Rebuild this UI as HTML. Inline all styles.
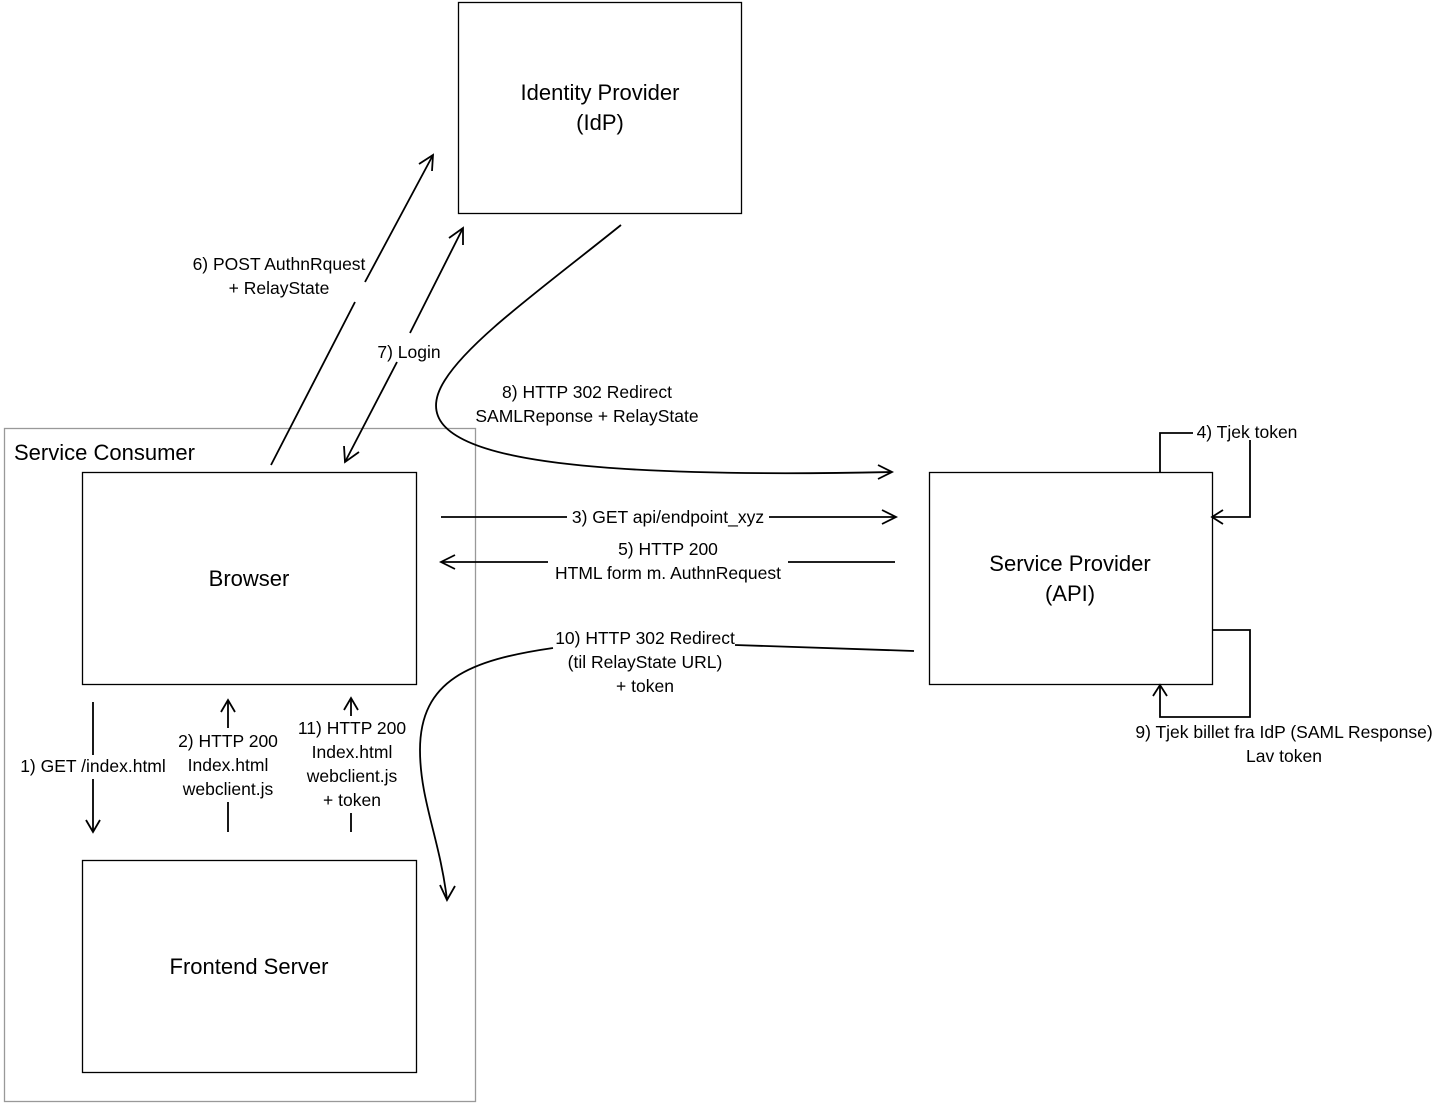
<!DOCTYPE html>
<html><head><meta charset="utf-8"><style>
html,body{margin:0;padding:0;background:#fff;}
svg{display:block;}
text{font-family:"Liberation Sans",sans-serif;fill:#000;}
.l{font-size:17.5px;text-anchor:middle;}
.b{font-size:22px;text-anchor:middle;}
</style></head><body>
<svg width="1446" height="1103" viewBox="0 0 1446 1103" xmlns="http://www.w3.org/2000/svg">
<g fill="none" stroke="#000" stroke-width="1.3">
<rect x="458.5" y="2.5" width="283" height="211"/>
<rect x="4.5" y="428.5" width="471" height="673" stroke="#999"/>
<rect x="82.5" y="472.5" width="334" height="212"/>
<rect x="82.5" y="860.5" width="334" height="212"/>
<rect x="929.5" y="472.5" width="283" height="212"/>
<g stroke-width="1.8">
<path d="M271 465 L355 302 M365 282 L433 155"/>
<path d="M419 164 L433 155 L432 171"/>
<path d="M463 228 L410 333 M397 362 L345 462"/>
<path d="M449 238 L463 228 L463 245"/>
<path d="M344 446 L345 462 L359 452"/>
<path d="M621 225 C540 290 470 340 445 380 C400 450 520 480 892 472"/>
<path d="M878 465 L892 472 L878 479"/>
<path d="M441 517 L567 517 M769 517 L896 517"/>
<path d="M882 510 L896 517 L882 524"/>
<path d="M895 562 L788 562 M548 562 L441 562"/>
<path d="M455 555 L441 562 L455 569"/>
<path d="M914 651 L735 645"/>
<path d="M553 648 C470 660 420 680 420 750 C420 800 440 840 447 900"/>
<path d="M440 885 L447 900 L455 886"/>
<path d="M1160 472 L1160 433 L1193 433"/>
<path d="M1250 440 L1250 517 L1212 517"/>
<path d="M1223 510 L1212 517 L1223 524"/>
<path d="M1212 630 L1250 630 L1250 717 L1160 717 L1160 685"/>
<path d="M1153 696 L1160 685 L1167 696"/>
<path d="M93 702 L93 755 M93 779 L93 832"/>
<path d="M86 820 L93 832 L100 820"/>
<path d="M228 832 L228 802 M228 728 L228 700"/>
<path d="M221 712 L228 700 L235 712"/>
<path d="M351 832 L351 813 M351 716 L351 698"/>
<path d="M344 710 L351 698 L358 710"/>
</g>
</g>
<text class="b" x="600" y="100">Identity Provider</text>
<text class="b" x="600" y="130">(IdP)</text>
<text x="14" y="460" style="font-size:22px">Service Consumer</text>
<text class="b" x="249" y="586">Browser</text>
<text class="b" x="249" y="974">Frontend Server</text>
<text class="b" x="1070" y="571">Service Provider</text>
<text class="b" x="1070" y="601">(API)</text>
<text class="l" x="279" y="270">6) POST AuthnRquest</text>
<text class="l" x="279" y="294">+ RelayState</text>
<text class="l" x="409" y="358">7) Login</text>
<text class="l" x="587" y="398">8) HTTP 302 Redirect</text>
<text class="l" x="587" y="422">SAMLReponse + RelayState</text>
<text class="l" x="668" y="523">3) GET api/endpoint_xyz</text>
<text class="l" x="668" y="555">5) HTTP 200</text>
<text class="l" x="668" y="579">HTML form m. AuthnRequest</text>
<text class="l" x="645" y="644">10) HTTP 302 Redirect</text>
<text class="l" x="645" y="668">(til RelayState URL)</text>
<text class="l" x="645" y="692">+ token</text>
<text class="l" x="1247" y="438">4) Tjek token</text>
<text class="l" x="1284" y="738">9) Tjek billet fra IdP (SAML Response)</text>
<text class="l" x="1284" y="762">Lav token</text>
<text class="l" x="93" y="772">1) GET /index.html</text>
<text class="l" x="228" y="747">2) HTTP 200</text>
<text class="l" x="228" y="771">Index.html</text>
<text class="l" x="228" y="795">webclient.js</text>
<text class="l" x="352" y="734">11) HTTP 200</text>
<text class="l" x="352" y="758">Index.html</text>
<text class="l" x="352" y="782">webclient.js</text>
<text class="l" x="352" y="806">+ token</text>
</svg>
</body></html>
